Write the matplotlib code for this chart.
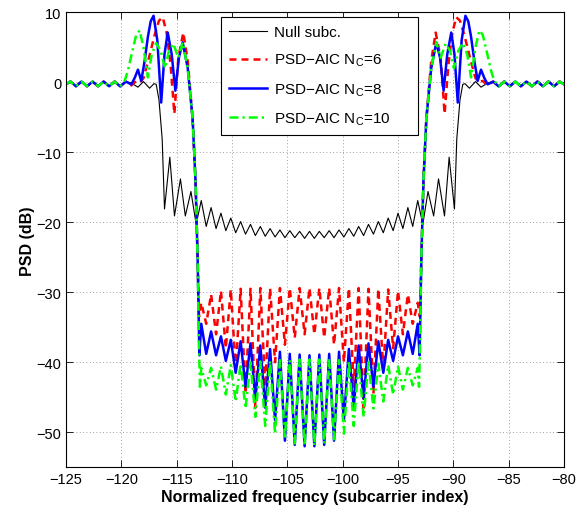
import matplotlib
matplotlib.use("Agg")
import matplotlib.pyplot as plt

plt.rcParams['font.family'] = ['Liberation Sans', 'DejaVu Sans']
plt.rcParams['mathtext.default'] = 'regular'

# ---------------- data ----------------
# far-side ripple (shared by all curves)
x_outer_left = [-125.0, -124.6, -124.1, -123.6, -123.1, -122.6, -122.1, -121.6, -121.1, -120.6, -120.1, -119.6]
y_outer_left = [-0.3, 0.1, -0.57, 0.1, -0.57, 0.1, -0.57, 0.1, -0.57, 0.1, -0.6, 0.1]
x_outer_right = [-86.4, -85.9, -85.4, -84.9, -84.4, -83.9, -83.4, -82.9, -82.4, -81.9, -81.4, -80.9, -80.4, -80.0]
y_outer_right = [0.1, -0.6, 0.1, -0.57, 0.1, -0.57, 0.1, -0.57, 0.1, -0.57, 0.1, -0.57, 0.1, -0.3]

# extrema positions inside the AIC notch
x_notch = [-112.78, -112.33, -111.89, -111.44, -111.00, -110.56, -110.11, -109.67, -109.22, -108.78,
           -108.33, -107.89, -107.44, -107.00, -106.56, -106.11, -105.67, -105.22, -104.78, -104.33,
           -103.89, -103.44, -103.00, -102.56, -102.11, -101.67, -101.22, -100.78, -100.33, -99.89,
           -99.44, -99.00, -98.56, -98.11, -97.67, -97.22, -96.78, -96.33, -95.89, -95.44,
           -95.00, -94.56, -94.11, -93.67, -93.22]

# Null subcarriers
x_null_near_left = [-119.1, -118.5, -118.0, -117.45, -117.05, -116.85, -116.6, -116.46, -116.31, -116.1]
y_null_near_left = [-0.1, -0.7, 0.1, -0.85, -0.2, -0.3, -2.5, -5.2, -8.1, -18.1]
x_null_notch = [-115.62, -115.20, -114.66, -114.22, -113.71, -113.24] + x_notch + [-92.76, -92.29, -91.78, -91.34, -90.80, -90.38]
y_null_notch = [-10.7, -19.1, -13.8, -19.1, -15.6, -20.3, -16.9, -20.6, -17.9, -20.9,
                -18.7, -21.2, -19.4, -21.5, -19.9, -21.7, -20.3, -21.9, -20.6, -22.0,
                -20.9, -22.1, -21.1, -22.2, -21.2, -22.2, -21.3, -22.3, -21.3,
                -22.3, -21.3, -22.2, -21.2, -22.2, -21.1, -22.1, -20.9, -22.0, -20.6,
                -21.9, -20.3, -21.7, -19.9, -21.5, -19.4, -21.2, -18.7, -20.9, -17.9,
                -20.6, -16.9, -20.3, -15.6, -19.1, -13.8, -19.1, -10.7]
x_null_near_right = [-89.9, -89.69, -89.54, -89.4, -89.15, -88.95, -88.55, -88.0, -87.5, -86.9]
y_null_near_right = [-18.1, -8.1, -5.2, -2.5, -0.3, -0.2, -0.85, 0.1, -0.7, -0.1]

# PSD-AIC Nc=6
x_n6_near_left = [-119.1, -118.65, -118.3, -118.0, -117.6, -117.0, -116.6, -116.26, -115.9, -115.55,
                  -115.21, -114.85, -114.4, -114.0, -113.56, -113.3, -113.11, -112.98]
y_n6_near_left = [-0.45, 0.2, 0.0, 0.6, 2.9, 6.7, 8.8, 9.3, 7.0, 2.5,
                  -4.5, 3.5, 7.1, 3.0, -5.2, -14.0, -25.0, -33.5]
y_n6_notch = [-31.5, -34.5, -30.3, -36.0, -29.8, -38.0, -29.6, -41.0, -29.5, -44.5,
              -29.5, -46.5, -29.4, -43.5, -29.4, -40.0, -29.4, -37.5, -29.4, -36.5,
              -29.4, -36.0, -29.4, -36.0, -29.4, -36.5, -29.4, -37.5, -29.4, -40.0,
              -29.4, -43.5, -29.4, -46.5, -29.5, -44.5, -29.5, -41.0, -29.6, -38.0,
              -29.8, -36.0, -30.3, -34.5, -31.5]
x_n6_near_right = [-93.02, -92.89, -92.7, -92.44, -92.0, -91.6, -91.15, -90.79, -90.45, -90.1,
                   -89.74, -89.4, -89.0, -88.4, -88.0, -87.7, -87.35, -86.9]
y_n6_near_right = [-33.5, -25.0, -14.0, -5.2, 3.0, 7.1, 3.5, -4.5, 2.5, 7.0,
                   9.3, 8.8, 6.7, 2.9, 0.6, 0.0, 0.2, -0.45]

# PSD-AIC Nc=8
x_n8_near_left = [-119.1, -118.8, -118.5, -118.2, -117.9, -117.6, -117.35, -117.09, -116.75, -116.4,
                  -116.1, -115.81, -115.45, -115.12, -114.8, -114.46, -114.0, -113.56, -113.3, -113.11, -112.95]
y_n8_near_left = [-0.3, 0.6, 1.8, 0.2, 3.0, 6.5, 8.7, 9.5, 6.0, -2.9,
                  4.0, 7.1, 4.0, -1.2, 3.5, 5.7, 2.0, -5.2, -14.0, -25.0, -39.0]
y_n8_notch = [-34.5, -38.8, -35.6, -39.0, -36.3, -39.8, -36.8, -41.5, -37.0, -43.5,
              -37.3, -45.2, -37.6, -46.5, -38.1, -48.3, -38.5, -51.2, -38.8, -51.8,
              -38.9, -52.0, -39.0, -52.0, -38.9, -51.8, -38.8, -51.2, -38.5, -48.3,
              -38.1, -46.5, -37.6, -45.2, -37.3, -43.5, -37.0, -41.5, -36.8, -39.8,
              -36.3, -39.0, -35.6, -38.8, -34.5]
x_n8_near_right = [-93.05, -92.89, -92.7, -92.44, -92.0, -91.54, -91.2, -90.88, -90.55, -90.19,
                   -89.9, -89.6, -89.25, -88.91, -88.65, -88.4, -88.1, -87.8, -87.5, -87.2, -86.9]
y_n8_near_right = [-39.0, -25.0, -14.0, -5.2, 2.0, 5.7, 3.5, -1.2, 4.0, 7.1,
                   4.0, -2.9, 6.0, 9.5, 8.7, 6.5, 3.0, 0.2, 1.8, 0.6, -0.3]

# PSD-AIC Nc=10
x_n10_near_left = [-119.7, -119.4, -119.0, -118.65, -118.35, -118.0, -117.6, -117.25, -116.85, -116.45,
                   -116.05, -115.7, -115.3, -114.85, -114.46, -114.0, -113.56, -113.3, -113.11, -112.98, -112.9]
y_n10_near_left = [0.2, 1.7, 4.5, 6.8, 7.4, 5.0, 0.7, 4.0, 5.6, 4.5,
                   2.0, 4.5, 5.5, 3.5, 5.7, 2.0, -5.2, -14.0, -25.0, -38.0, -43.5]
y_n10_notch = [-40.8, -43.3, -40.8, -43.9, -40.6, -44.6, -40.4, -45.6, -40.2, -46.6,
               -40.0, -47.8, -39.9, -49.1, -39.8, -50.2, -39.7, -51.0, -39.7, -51.6,
               -39.6, -51.9, -39.6, -51.9, -39.6, -51.6, -39.7, -51.0, -39.7, -50.2,
               -39.8, -49.1, -39.9, -47.8, -40.0, -46.6, -40.2, -45.6, -40.4, -44.6,
               -40.6, -43.9, -40.8, -43.3, -40.8]
x_n10_near_right = [-93.1, -93.02, -92.89, -92.7, -92.44, -92.0, -91.54, -91.15, -90.7, -90.3,
                    -89.95, -89.55, -89.15, -88.75, -88.4, -88.0, -87.65, -87.35, -87.0, -86.6, -86.3]
y_n10_near_right = [-43.5, -38.0, -25.0, -14.0, -5.2, 2.0, 5.7, 3.5, 5.5, 4.5,
                    2.0, 4.5, 5.6, 4.0, 0.7, 5.0, 7.4, 6.8, 4.5, 1.7, 0.2]

labels = ['Null subc.', 'PSD\u2212AIC N$_C$=6', 'PSD\u2212AIC N$_C$=8', 'PSD\u2212AIC N$_C$=10']
x_ticks = [-125, -120, -115, -110, -105, -100, -95, -90, -85, -80]
y_ticks = [-50, -40, -30, -20, -10, 0, 10]

# ---------------- assemble series ----------------
x_null = x_outer_left + x_null_near_left + x_null_notch + x_null_near_right + x_outer_right
y_null = y_outer_left + y_null_near_left + y_null_notch + y_null_near_right + y_outer_right
x_n6 = x_outer_left + x_n6_near_left + x_notch + x_n6_near_right + x_outer_right
y_n6 = y_outer_left + y_n6_near_left + y_n6_notch + y_n6_near_right + y_outer_right
x_n8 = x_outer_left + x_n8_near_left + x_notch + x_n8_near_right + x_outer_right
y_n8 = y_outer_left + y_n8_near_left + y_n8_notch + y_n8_near_right + y_outer_right
x_n10 = x_outer_left[:-1] + x_n10_near_left + x_notch + x_n10_near_right + x_outer_right[1:]
y_n10 = y_outer_left[:-1] + y_n10_near_left + y_n10_notch + y_n10_near_right + y_outer_right[1:]

# ---------------- plot ----------------
fig = plt.figure(figsize=(5.76, 5.10), dpi=100)
ax = fig.add_axes([0.1146, 0.0818, 0.8646, 0.8922])

ax.plot(x_null, y_null, color='black', lw=0.8, label=labels[0])
ax.plot(x_n6, y_n6, color='#ff0000', lw=1.8, dashes=(2.8, 2.0), label=labels[1])
ax.plot(x_n8, y_n8, color='#0000ff', lw=1.8, label=labels[2])
ax.plot(x_n10, y_n10, color='#00ff00', lw=1.8, dashes=(3.6, 1.6, 0.9, 1.6), label=labels[3])

ax.set_xlim(-125, -80)
ax.set_ylim(-55, 10)
ax.set_xticks(x_ticks)
ax.set_yticks(y_ticks)
ax.grid(True, linestyle=(0, (1, 3)), color='0.5', linewidth=0.6)
ax.tick_params(direction='in', top=True, right=True, length=5, width=0.6, labelsize=10.5)
for s in ax.spines.values():
    s.set_linewidth(0.8)

ax.set_xlabel('Normalized frequency (subcarrier index)', fontsize=11.5, fontweight='bold', labelpad=2)
ax.set_ylabel('PSD (dB)', fontsize=11.5, fontweight='bold', labelpad=1)

leg = ax.legend(loc='upper left', bbox_to_anchor=(0.311, 0.5, 0.396, 0.4886), mode='expand',
                borderaxespad=0, fancybox=False, edgecolor='black', framealpha=1, fontsize=11,
                handlelength=2.5, labelspacing=0.85, borderpad=0.5, handletextpad=0.45)
leg.get_frame().set_linewidth(0.8)

fig.savefig('out.png', dpi=100)
